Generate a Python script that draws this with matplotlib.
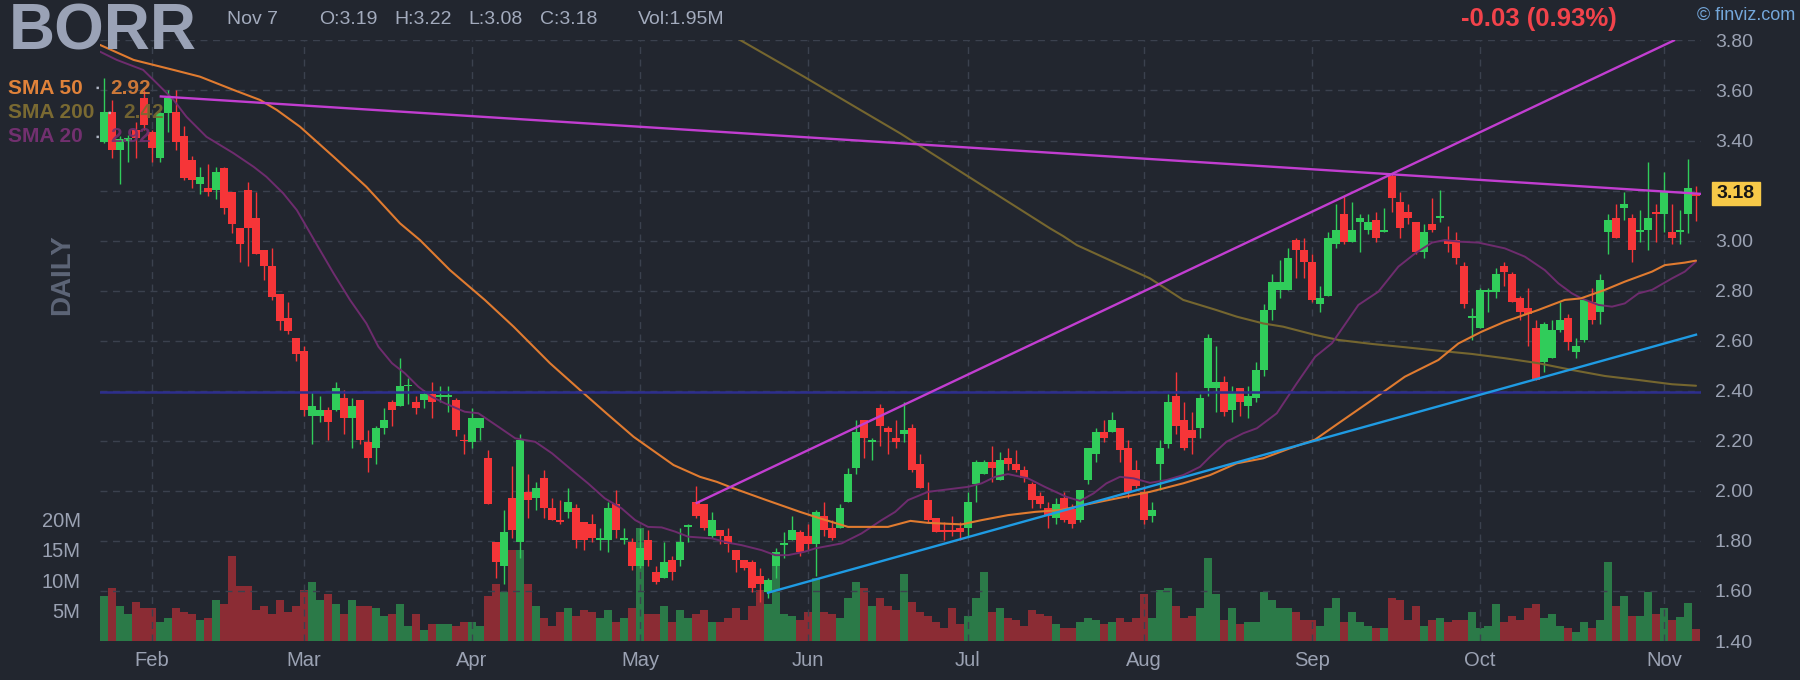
import numpy as np
import pandas as pd
import matplotlib
matplotlib.use('Agg')
import matplotlib.pyplot as plt
from matplotlib.patches import Rectangle

# daily candles, BORR, Jan 24 - Nov 7 2025
first_day = '2025-01-24'
last_day = '2025-11-07'
holidays = ['2025-02-17', '2025-04-18', '2025-05-26', '2025-06-19', '2025-07-04', '2025-09-01']

opens = [3.395, 3.514, 3.363, 3.400, 3.443, 3.570, 3.434, 3.330, 3.508, 3.514,
         3.419, 3.323, 3.227, 3.212, 3.203, 3.290, 3.194, 3.051, 3.203, 3.091,
         2.963, 2.900, 2.787, 2.691, 2.611, 2.557, 2.301, 2.301, 2.325, 2.323,
         2.371, 2.292, 2.363, 2.195, 2.172, 2.251, 2.355, 2.339, 2.417, 2.355,
         2.363, 2.387, 2.377, 2.377, 2.363, 2.202, 2.195, 2.251, 2.131, 1.795,
         1.700, 1.971, 1.795, 1.995, 1.971, 2.051, 1.931, 1.883, 1.915, 1.931,
         1.875, 1.867, 1.803, 1.803, 1.947, 1.803, 1.795, 1.699, 1.803, 1.675,
         1.651, 1.723, 1.723, 1.855, 1.955, 1.947, 1.819, 1.843, 1.819, 1.763,
         1.723, 1.715, 1.659, 1.595, 1.699, 1.783, 1.803, 1.835, 1.819, 1.787,
         1.899, 1.851, 1.851, 1.955, 2.091, 2.283, 2.195, 2.331, 2.251, 2.211,
         2.227, 2.251, 2.107, 1.963, 1.891, 1.843, 1.843, 1.851, 1.851, 2.027,
         2.067, 2.115, 2.043, 2.131, 2.107, 2.083, 2.027, 1.979, 1.931, 1.891,
         1.971, 1.926, 1.883, 2.043, 2.147, 2.235, 2.235, 2.251, 2.171, 2.083,
         1.995, 1.899, 2.107, 2.187, 2.379, 2.283, 2.243, 2.251, 2.411, 2.411,
         2.435, 2.323, 2.411, 2.339, 2.371, 2.483, 2.723, 2.803, 2.803, 3.002,
         2.962, 2.914, 2.747, 2.779, 2.986, 3.106, 2.994, 3.074, 3.042, 3.082,
         3.034, 3.258, 3.154, 3.114, 3.074, 2.954, 3.066, 3.090, 3.002, 3.002,
         2.898, 2.690, 2.651, 2.795, 2.795, 2.898, 2.867, 2.771, 2.731, 2.651,
         2.515, 2.531, 2.643, 2.691, 2.555, 2.603, 2.755, 2.715, 3.034, 3.090,
         3.130, 3.090, 3.034, 3.042, 3.114, 3.106, 3.034, 3.034, 3.108, 3.190]
highs = [3.648, 3.562, 3.419, 3.422, 3.474, 3.600, 3.440, 3.515, 3.601, 3.601,
         3.459, 3.338, 3.296, 3.305, 3.296, 3.296, 3.194, 3.051, 3.234, 3.194,
         2.963, 2.971, 2.787, 2.756, 2.611, 2.580, 2.394, 2.379, 2.334, 2.435,
         2.403, 2.371, 2.363, 2.243, 2.259, 2.331, 2.363, 2.531, 2.451, 2.379,
         2.403, 2.435, 2.419, 2.419, 2.371, 2.227, 2.331, 2.291, 2.163, 1.795,
         1.923, 2.099, 2.227, 2.067, 2.035, 2.083, 1.971, 1.963, 2.011, 1.947,
         1.875, 1.907, 1.851, 1.955, 2.003, 1.851, 1.811, 1.851, 1.843, 1.699,
         1.795, 1.739, 1.851, 1.867, 2.019, 1.947, 1.915, 1.843, 1.851, 1.763,
         1.723, 1.723, 1.691, 1.651, 1.771, 1.835, 1.899, 1.843, 1.867, 1.923,
         1.955, 1.883, 1.947, 2.091, 2.283, 2.283, 2.211, 2.347, 2.259, 2.283,
         2.355, 2.267, 2.147, 2.035, 1.891, 1.875, 1.899, 1.875, 1.995, 2.123,
         2.123, 2.179, 2.155, 2.171, 2.163, 2.099, 2.035, 1.995, 1.955, 1.971,
         1.995, 1.947, 2.003, 2.171, 2.251, 2.283, 2.315, 2.251, 2.203, 2.123,
         2.019, 1.955, 2.203, 2.387, 2.475, 2.355, 2.315, 2.387, 2.627, 2.579,
         2.459, 2.419, 2.411, 2.419, 2.515, 2.747, 2.867, 2.923, 2.971, 3.010,
         3.010, 2.947, 2.819, 3.034, 3.146, 3.178, 3.154, 3.106, 3.106, 3.114,
         3.130, 3.266, 3.194, 3.146, 3.074, 3.066, 3.170, 3.202, 3.058, 3.034,
         2.914, 2.731, 2.811, 2.811, 2.891, 2.914, 2.875, 2.779, 2.811, 2.683,
         2.675, 2.683, 2.755, 2.707, 2.611, 2.763, 2.811, 2.867, 3.106, 3.146,
         3.194, 3.106, 3.122, 3.314, 3.146, 3.274, 3.146, 3.122, 3.328, 3.220]
lows = [3.390, 3.330, 3.227, 3.315, 3.330, 3.440, 3.315, 3.315, 3.434, 3.363,
        3.244, 3.212, 3.188, 3.179, 3.165, 3.108, 3.029, 2.916, 2.900, 2.947,
        2.844, 2.764, 2.644, 2.628, 2.517, 2.301, 2.189, 2.277, 2.203, 2.320,
        2.228, 2.172, 2.188, 2.075, 2.108, 2.228, 2.260, 2.339, 2.347, 2.307,
        2.331, 2.291, 2.355, 2.315, 2.219, 2.147, 2.172, 2.204, 1.949, 1.653,
        1.629, 1.811, 1.733, 1.891, 1.923, 1.891, 1.883, 1.867, 1.891, 1.771,
        1.763, 1.795, 1.763, 1.755, 1.811, 1.787, 1.683, 1.691, 1.699, 1.627,
        1.651, 1.643, 1.699, 1.795, 1.891, 1.843, 1.811, 1.787, 1.755, 1.675,
        1.683, 1.595, 1.556, 1.571, 1.651, 1.731, 1.803, 1.739, 1.763, 1.659,
        1.819, 1.803, 1.851, 1.955, 2.067, 2.131, 2.123, 2.179, 2.147, 2.171,
        2.195, 2.075, 2.011, 1.875, 1.835, 1.803, 1.819, 1.803, 1.819, 1.955,
        2.067, 2.035, 2.043, 2.083, 2.075, 2.035, 1.931, 1.931, 1.851, 1.867,
        1.875, 1.851, 1.875, 2.027, 2.115, 2.195, 2.235, 2.115, 1.971, 2.011,
        1.867, 1.875, 2.003, 2.171, 2.227, 2.163, 2.147, 2.211, 2.379, 2.315,
        2.299, 2.275, 2.299, 2.291, 2.355, 2.459, 2.683, 2.771, 2.803, 2.851,
        2.851, 2.755, 2.715, 2.779, 2.970, 2.986, 2.994, 2.954, 3.026, 2.994,
        3.034, 3.114, 3.010, 3.066, 2.946, 2.930, 3.034, 3.074, 2.954, 2.906,
        2.731, 2.603, 2.651, 2.715, 2.771, 2.819, 2.755, 2.683, 2.579, 2.443,
        2.475, 2.531, 2.635, 2.563, 2.531, 2.595, 2.667, 2.667, 2.946, 3.010,
        3.082, 2.914, 2.994, 2.962, 2.994, 3.034, 2.986, 2.986, 3.032, 3.080]
closes = [3.514, 3.363, 3.404, 3.410, 3.410, 3.460, 3.372, 3.508, 3.570, 3.395,
          3.250, 3.244, 3.256, 3.194, 3.274, 3.132, 3.067, 2.987, 3.051, 2.947,
          2.900, 2.773, 2.677, 2.637, 2.548, 2.325, 2.339, 2.325, 2.277, 2.410,
          2.292, 2.339, 2.203, 2.132, 2.251, 2.283, 2.323, 2.419, 2.421, 2.331,
          2.387, 2.355, 2.381, 2.381, 2.243, 2.198, 2.291, 2.291, 1.949, 1.717,
          1.835, 1.843, 2.203, 1.963, 2.011, 1.931, 1.883, 1.876, 1.955, 1.803,
          1.803, 1.811, 1.811, 1.931, 1.843, 1.811, 1.699, 1.771, 1.723, 1.635,
          1.715, 1.675, 1.795, 1.860, 1.899, 1.851, 1.883, 1.819, 1.787, 1.723,
          1.691, 1.611, 1.627, 1.643, 1.755, 1.787, 1.843, 1.755, 1.787, 1.915,
          1.843, 1.811, 1.931, 2.067, 2.235, 2.211, 2.199, 2.259, 2.235, 2.195,
          2.243, 2.083, 2.011, 1.883, 1.835, 1.835, 1.835, 1.835, 1.955, 2.115,
          2.115, 2.091, 2.123, 2.107, 2.083, 2.051, 1.963, 1.947, 1.899, 1.947,
          1.883, 1.867, 2.003, 2.171, 2.235, 2.211, 2.283, 2.163, 1.995, 2.019,
          1.883, 1.923, 2.171, 2.355, 2.259, 2.171, 2.211, 2.371, 2.611, 2.435,
          2.315, 2.395, 2.355, 2.379, 2.483, 2.723, 2.835, 2.835, 2.931, 2.962,
          2.914, 2.763, 2.771, 3.010, 3.042, 2.994, 3.042, 3.090, 3.074, 3.010,
          3.042, 3.170, 3.050, 3.090, 2.954, 3.034, 3.042, 3.098, 2.986, 2.930,
          2.747, 2.699, 2.803, 2.803, 2.867, 2.874, 2.755, 2.715, 2.707, 2.443,
          2.667, 2.643, 2.683, 2.595, 2.579, 2.763, 2.683, 2.843, 3.082, 3.010,
          3.146, 2.962, 3.042, 3.090, 3.106, 3.194, 3.010, 3.042, 3.211, 3.180]
volumes = [7.4, 8.7, 5.7, 4.4, 6.4, 5.4, 5.4, 3.1, 3.7, 5.4,
           4.75, 4.4, 3.4, 3.7, 6.7, 6.0, 13.9, 9.0, 9.0, 5.1,
           5.7, 4.4, 6.7, 4.75, 5.7, 8.3, 9.7, 6.7, 7.7, 6.1,
           4.4, 6.7, 5.7, 5.7, 5.4, 4.1, 4.4, 6.1, 2.5, 4.4,
           1.8, 2.8, 2.8, 2.8, 2.5, 3.1, 3.1, 2.5, 7.4, 9.3,
           8.0, 14.9, 14.9, 9.3, 5.7, 3.8, 2.5, 4.75, 5.4, 4.1,
           5.1, 4.75, 3.8, 5.1, 3.1, 3.8, 5.4, 18.5, 4.4, 4.4,
           5.7, 3.1, 5.1, 3.8, 4.4, 5.1, 3.1, 3.1, 3.8, 5.4,
           3.4, 5.7, 8.4, 6.1, 12.3, 4.4, 4.1, 3.4, 4.75, 10.3,
           4.75, 4.4, 3.8, 7.0, 9.7, 8.7, 5.7, 7.0, 5.7, 5.1,
           11.0, 6.4, 4.75, 4.1, 3.1, 2.1, 5.4, 2.8, 4.1, 7.0,
           11.3, 4.75, 5.4, 3.8, 3.4, 2.5, 5.1, 4.4, 4.1, 2.8,
           2.1, 2.1, 3.1, 3.8, 3.4, 2.8, 3.1, 3.8, 3.1, 3.8,
           7.7, 3.8, 8.4, 8.7, 5.7, 3.8, 4.1, 5.4, 13.6, 7.7,
           3.4, 5.4, 2.8, 3.1, 3.1, 8.0, 6.7, 5.4, 5.4, 4.75,
           3.4, 3.4, 2.5, 5.4, 7.0, 3.1, 4.75, 3.1, 2.5, 2.1,
           2.1, 7.0, 6.7, 3.4, 5.7, 2.5, 3.4, 3.8, 3.1, 3.4,
           3.4, 4.75, 2.1, 2.5, 6.1, 3.1, 4.1, 3.4, 5.4, 6.1,
           3.8, 4.4, 2.5, 2.1, 1.5, 3.1, 2.1, 3.4, 13.0, 5.7,
           7.4, 4.1, 4.1, 8.0, 4.4, 5.4, 3.4, 4.0, 6.3, 1.95]

# header numbers for the last day
price_change = -0.03
pct_change = 0.93

# moving averages, read as (candle index, price) points
sma50_pts = [(-0.5, 3.782), (3.7, 3.722), (8.7, 3.682), (12, 3.655), (16.2, 3.602), (19.5, 3.562),
             (21.6, 3.522), (24.5, 3.455), (28.7, 3.335), (32.8, 3.215), (37, 3.069), (39.5, 3.002),
             (43.25, 2.882), (47.6, 2.763), (51.2, 2.656), (55.75, 2.510), (59.5, 2.403), (62.8, 2.310),
             (66.2, 2.216), (71.2, 2.103), (74.5, 2.056), (76.6, 2.036), (78.7, 2.010), (82.8, 1.963),
             (87, 1.916), (89.5, 1.890), (93, 1.856), (98, 1.856), (100.8, 1.880), (103, 1.872),
             (107.2, 1.866), (109.7, 1.883), (113, 1.903), (116.4, 1.916), (119.5, 1.923), (122.4, 1.943),
             (126.6, 1.970), (130.75, 1.996), (134.9, 2.030), (138.25, 2.063), (141.6, 2.110), (144.9, 2.130),
             (148.25, 2.170), (151.4, 2.205), (154.3, 2.270), (158.5, 2.363), (162.6, 2.456), (166.8, 2.523),
             (169.3, 2.589), (172.2, 2.636), (175.1, 2.676), (179.3, 2.723), (182.6, 2.763), (184.6, 2.769),
             (187.6, 2.803), (190.1, 2.836), (193.5, 2.876), (195.1, 2.902), (197.6, 2.912), (199, 2.920)]
sma200_pts = [(75, 3.887), (79.6, 3.800), (87.5, 3.655), (94.6, 3.521), (99.5, 3.429), (118.25, 3.049),
              (119.9, 3.018), (121.6, 2.982), (126.6, 2.909), (130.75, 2.849), (134.9, 2.763), (139, 2.723),
              (141.6, 2.696), (144.9, 2.669), (147.4, 2.656), (151.4, 2.623), (154.3, 2.603), (158.5, 2.587),
              (162.6, 2.574), (166.8, 2.560), (171, 2.547), (175.1, 2.530), (179.3, 2.510), (183.5, 2.483),
              (187.6, 2.459), (191.8, 2.443), (196, 2.426), (199, 2.420)]
sma20_pts = [(-0.5, 3.755), (1.6, 3.722), (4.9, 3.682), (6.6, 3.629), (8.7, 3.562), (10.3, 3.495),
             (12.8, 3.415), (16.2, 3.349), (18.7, 3.295), (20.3, 3.255), (22.4, 3.189), (24.1, 3.122),
             (25.3, 3.056), (27, 2.962), (28.7, 2.869), (30.75, 2.763), (32.8, 2.669), (34.3, 2.576),
             (36, 2.510), (37.6, 2.470), (39.3, 2.416), (40.95, 2.376), (42.6, 2.350), (45.1, 2.316),
             (46.8, 2.310), (49.3, 2.256), (51.4, 2.210), (53.9, 2.196), (56, 2.150), (58, 2.096),
             (60.5, 2.030), (62.6, 1.970), (64.7, 1.930), (66.4, 1.883), (68, 1.856), (69.7, 1.854),
             (71.4, 1.837), (73, 1.817), (76, 1.810), (78, 1.793), (79.7, 1.783), (82.2, 1.763),
             (83.9, 1.743), (85.5, 1.743), (87.6, 1.757), (88.9, 1.770), (92.2, 1.790), (94.7, 1.830),
             (97.2, 1.883), (98.9, 1.916), (100.5, 1.963), (103, 1.996), (105.5, 2.006), (108, 2.016),
             (109.7, 2.030), (111.4, 2.056), (113, 2.067), (115.5, 2.050), (117.6, 2.016), (120.3, 1.976),
             (122, 1.960), (123.7, 1.990), (125.3, 2.030), (127, 2.056), (128.7, 2.050), (130.75, 2.032),
             (132.8, 2.043), (134.9, 2.063), (137, 2.096), (138.25, 2.136), (140.3, 2.196), (142.4, 2.230),
             (144.1, 2.250), (146.6, 2.310), (149.1, 2.430), (151.4, 2.536), (153.5, 2.590), (156.8, 2.743),
             (159.3, 2.796), (161.8, 2.896), (163.9, 2.949), (166, 2.992), (167.6, 3.002), (169.3, 2.996),
             (171.8, 2.992), (175.1, 2.969), (177.6, 2.936), (180.1, 2.882), (181.8, 2.829), (183.5, 2.789),
             (184.7, 2.769), (186.8, 2.743), (188.5, 2.736), (190.1, 2.749), (191.8, 2.789), (193.5, 2.803),
             (196, 2.849), (197.6, 2.876), (199, 2.916)]

# drawn trendlines (start, end) and the horizontal level
resistance_line = [(7.1, 3.576), (199.5, 3.187)]
channel_line = [(74.1, 1.952), (196.25, 3.800)]
support_line = [(83.0, 1.593), (199.0, 2.624)]
level_line = 2.395

legend_rows = [('SMA 50', '2.92', '#e0823a'), ('SMA 200', '2.42', '#7a6a32'), ('SMA 20', '2.92', '#72306f')]
price_ticks = [1.40, 1.60, 1.80, 2.00, 2.20, 2.40, 2.60, 2.80, 3.00, 3.40, 3.60, 3.80]
grid_levels = [1.60, 1.80, 2.00, 2.20, 2.40, 2.60, 2.80, 3.00, 3.20, 3.40, 3.60, 3.80]
vol_ticks = [5, 10, 15, 20]

BG = '#22262f'
GRID = '#3b414e'
UP, DOWN = '#30cc5a', '#f63538'
UP_VOL, DOWN_VOL = '#2b7a48', '#8b2c34'
TXT = '#9ba2b3'

W, H = 1800, 680


def px(x, y):
    # pixel position (from top-left) to figure fraction
    return x / W, 1 - y / H


def trading_days():
    days = pd.bdate_range(first_day, last_day)
    return days[~days.isin(pd.to_datetime(holidays))]


def main():
    plt.rcParams['font.family'] = ['Liberation Sans', 'DejaVu Sans']
    days = trading_days()
    x = np.arange(len(days))
    o, h, l, c = map(np.array, (opens, highs, lows, closes))
    up = c >= o

    fig = plt.figure(figsize=(W / 100, H / 100), dpi=100, facecolor=BG)
    rect = [100 / W, 39 / H, 1601 / W, 600.6 / H]

    # volume underneath
    axv = fig.add_axes(rect)
    axv.set_facecolor(BG)
    axv.bar(x, volumes, width=1.0, color=np.where(up, UP_VOL, DOWN_VOL), linewidth=0)
    axv.set_ylim(0, 98.5)
    axv.set_xlim(-0.5, 199.625)
    axv.set_xticks([])
    axv.set_yticks(vol_ticks)
    axv.set_yticklabels([f'{v}M' for v in vol_ticks])
    axv.tick_params(axis='y', length=0, pad=14, labelsize=14.5, labelcolor=TXT)
    for s in axv.spines.values():
        s.set_visible(False)

    # price on top
    ax = fig.add_axes(rect)
    ax.patch.set_visible(False)
    ax.set_xlim(-0.5, 199.625)
    ax.set_ylim(1.40, 3.80)
    for s in ax.spines.values():
        s.set_visible(False)

    month_idx = [i for i in range(1, len(days)) if days[i].month != days[i - 1].month]
    dash = (0, (5, 4))
    ax.hlines(grid_levels, -0.5, 199.625, colors=GRID, linestyles=dash, lw=1.0, zorder=1)
    ax.vlines(month_idx, 1.40, 3.80, colors=GRID, linestyles=dash, lw=1.0, zorder=1)

    ax.set_xticks(month_idx)
    ax.set_xticklabels([days[i].strftime('%b') for i in month_idx])
    ax.tick_params(axis='x', length=0, pad=7, labelsize=14.5, labelcolor=TXT)
    ax.yaxis.tick_right()
    ax.set_yticks(price_ticks)
    ax.set_yticklabels([f'{p:.2f}' for p in price_ticks])
    ax.tick_params(axis='y', length=0, pad=10, labelsize=14, labelcolor=TXT)

    # candles
    cols = np.where(up, UP, DOWN)
    body_lo = np.minimum(o, c)
    body_h = np.maximum(np.abs(c - o), 0.007)
    ax.vlines(x, l, h, colors=cols, lw=1.0, zorder=2)
    ax.bar(x, body_h, bottom=body_lo, width=0.95, color=cols, linewidth=0, zorder=2)

    # moving averages
    for pts, col, lw in [(sma200_pts, '#75662f', 1.5), (sma20_pts, '#6e2c6e', 1.4), (sma50_pts, '#e07b30', 1.5)]:
        px_, py_ = zip(*pts)
        ax.plot(px_, py_, color=col, lw=lw, zorder=3, solid_capstyle='round')

    # trendlines
    ax.axhline(level_line, color='#2d2e8e', lw=1.8, zorder=3)
    for pts, col in [(resistance_line, '#c23ed1'), (channel_line, '#c23ed1'), (support_line, '#1f9be3')]:
        (x0, y0), (x1, y1) = pts
        ax.plot([x0, x1], [y0, y1], color=col, lw=1.7, zorder=4)

    # header
    fig.text(*px(9, 49), 'BORR', fontsize=46, fontweight='bold', color='#9aa2b6', va='baseline')
    fig.text(*px(227, 24), 'Nov 7', fontsize=14, color='#a3abbd', va='baseline')
    for xp, t in [(319, f'O:{opens[-1]:.2f}'), (394, f'H:{highs[-1]:.2f}'), (468, f'L:{lows[-1]:.2f}'),
                  (540, f'C:{closes[-1]:.2f}'), (638, f'Vol:{volumes[-1]:.2f}M')]:
        fig.text(*px(xp, 24), t, fontsize=14, color='#a3abbd', va='baseline')
    fig.text(*px(1539, 26), f'{price_change:.2f} ({pct_change:.2f}%)', fontsize=18.5, fontweight='bold',
             color='#f2434b', ha='center', va='baseline')
    fig.text(*px(1795, 20), '\u00a9 finviz.com', fontsize=13, color='#74a7da', ha='right', va='baseline')

    # legend rows
    for k, (name, val, col) in enumerate(legend_rows):
        yy = 88 + k * 24.5
        fig.text(*px(8, yy), name, fontsize=15, fontweight='bold', color=col, va='center')
        fig.text(*px(110 if k != 1 else 123, yy), val, fontsize=15, fontweight='bold', color=col,
                 va='center', alpha=0.9)
        fig.text(*px(97 if k != 1 else 109, yy), '\u25aa', fontsize=7, color='#b0b6c4', ha='center', va='center')

    fig.text(*px(62, 275), 'DAILY', rotation=90, fontsize=20, fontweight='bold', color='#5d6577',
             ha='center', va='center')

    # last price tag
    fig.patches.append(Rectangle(px(1712, 205.4), 48 / W, 23 / H, transform=fig.transFigure,
                                 color='#f7c948', zorder=5))
    fig.text(*px(1736, 194), f'{closes[-1]:.2f}', fontsize=14, fontweight='bold', color='#161616',
             ha='center', va='center', zorder=6)

    fig.savefig('out.png', dpi=100, facecolor=BG)


if __name__ == "__main__":
    main()
